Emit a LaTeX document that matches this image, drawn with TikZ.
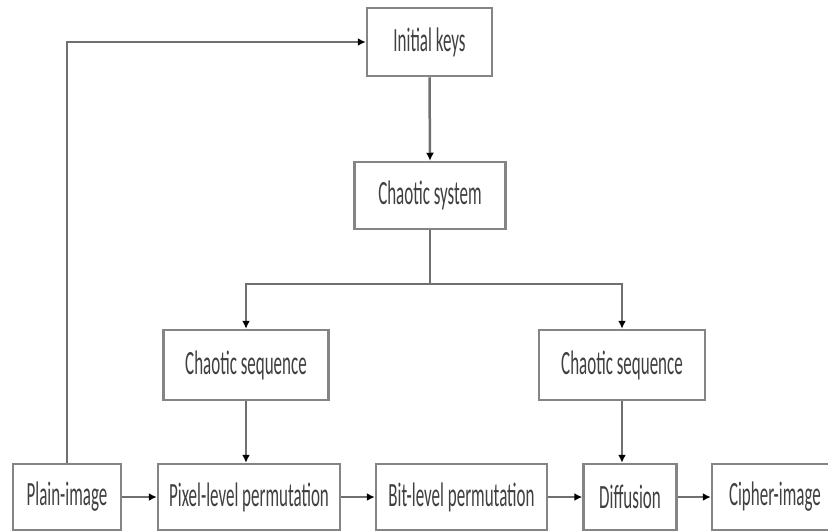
\documentclass[tikz,border=0pt]{standalone}
\usepackage{fontspec}
\newfontfamily\boxfont[FakeStretch=0.5]{Carlito}
\usetikzlibrary{arrows.meta, positioning}
\definecolor{lngray}{RGB}{112, 112, 112}
\definecolor{txtgray}{RGB}{64, 64, 64}

\begin{document}
\begin{tikzpicture}[x=1pt, y=-1pt,
  every node/.style={font=\boxfont\fontsize{34}{38}\selectfont, text=txtgray},
  blockbox/.style={draw=lngray!85, line width=2.5pt, fill=white, inner sep=0pt},
  link/.style={draw=lngray, line width=2.5pt},
  flow/.style={link, -{Latex[black, length=8pt, width=8pt]}}]
  \useasboundingbox (0,0) rectangle (828,531);

  % Top: keys and chaotic system
  \node[blockbox, minimum width=125pt, minimum height=68pt] (keys) at (429.5,42) {Initial keys};
  \node[blockbox, minimum width=151pt, minimum height=67pt] (system) at (430,195.5) {Chaotic system};

  % Middle: the two chaotic sequences
  \node[blockbox, minimum width=165pt, minimum height=70pt] (seqL) at (246,365) {Chaotic sequence};
  \node[blockbox, minimum width=166pt, minimum height=70pt] (seqR) at (622,365) {Chaotic sequence};

  % Bottom row: encryption steps
  \node[blockbox, minimum width=108pt, minimum height=66pt] (plain) at (67,497) {Plain-image};
  \node[blockbox, minimum width=182pt, minimum height=66pt] (pixel) at (249,497) {Pixel-level permutation};
  \node[blockbox, minimum width=171pt, minimum height=66pt] (bit) at (461.5,497) {Bit-level permutation};
  \node[blockbox, minimum width=93pt, minimum height=66pt] (diff) at (630,497) {Diffusion};
  \node[blockbox, minimum width=150pt, minimum height=66pt, text width=116pt] (cipher) at (787,497) {Cipher-image};

  % Branch point below the chaotic system
  \coordinate (split) at (430,284);

  % Connectors
  \draw[flow] (plain.north) |- (keys.west);
  \draw[flow] (keys.south) -- (system.north);
  \draw[link] (system.south) -- (split);
  \draw[flow] (split) -| (seqL.north);
  \draw[flow] (split) -| (seqR.north);
  \draw[flow] (seqL.south) -- (seqL.south |- pixel.north);
  \draw[flow] (seqR.south) -- (seqR.south |- diff.north);
  \draw[flow] (plain.east) -- (pixel.west);
  \draw[flow] (pixel.east) -- (bit.west);
  \draw[flow] (bit.east) -- (diff.west);
  \draw[flow] (diff.east) -- (cipher.west);
\end{tikzpicture}
\end{document}
